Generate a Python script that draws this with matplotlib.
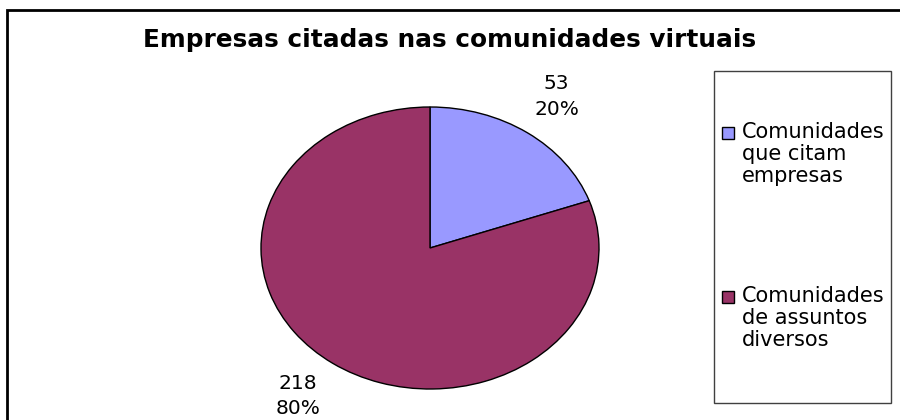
import matplotlib.pyplot as plt
import matplotlib.patches as mpatches

title = "Empresas citadas nas comunidades virtuais"
labels = ["Comunidades\nque citam\nempresas", "Comunidades\nde assuntos\ndiversos"]
values = [53, 218]
colors = ["#9999FF", "#993366"]

W, H = 900, 420
plt.rcParams['font.family'] = ['DejaVu Sans']

fig = plt.figure(figsize=(9, 4.2), dpi=100)

def fx(px):
    return px / W

def fy(py):
    return 1 - py / H

# outer frame (bottom and right edge run off the picture)
fig.patches.append(mpatches.Rectangle((fx(7), fy(440)), fx(1000), 430 / H,
                                      transform=fig.transFigure, fill=False,
                                      edgecolor="black", linewidth=2, clip_on=False))

fig.text(fx(450), fy(40), title, ha="center", va="center", fontsize=17.8, fontweight="bold")

# pie is stretched horizontally like the original
ax = fig.add_axes([fx(261), fy(389), fx(338), 282 / H])
total = sum(values)
lbls = [f"{v}\n{round(100 * v / total)}%" for v in values]
wedges, texts = ax.pie(values, colors=colors, startangle=90, counterclock=False,
                       labels=lbls, labeldistance=1.3,
                       wedgeprops=dict(edgecolor="black", linewidth=1),
                       textprops=dict(fontsize=14.5, ha="center", va="center", linespacing=1.45))
for w in wedges:
    w.set_clip_on(False)
texts[0].set_position((0.75, 1.075))
texts[1].set_position((-0.78, -1.05))
ax.set_aspect("auto")
ax.set_xlim(-1, 1)
ax.set_ylim(-1, 1)

# legend box
fig.patches.append(mpatches.Rectangle((fx(714), fy(403)), fx(891 - 714), (403 - 71) / H,
                                      transform=fig.transFigure, fill=False,
                                      edgecolor="#404040", linewidth=1))
first_line = [134, 298]
for lab, col, y0 in zip(labels, colors, first_line):
    fig.patches.append(mpatches.Rectangle((fx(722), fy(y0 + 5)), fx(12), 12 / H,
                                          transform=fig.transFigure, facecolor=col,
                                          edgecolor="black", linewidth=1))
    fig.text(fx(742), fy(y0 - 12), lab, ha="left", va="top", fontsize=15, linespacing=1.12)

fig.savefig("out.png", dpi=100)
